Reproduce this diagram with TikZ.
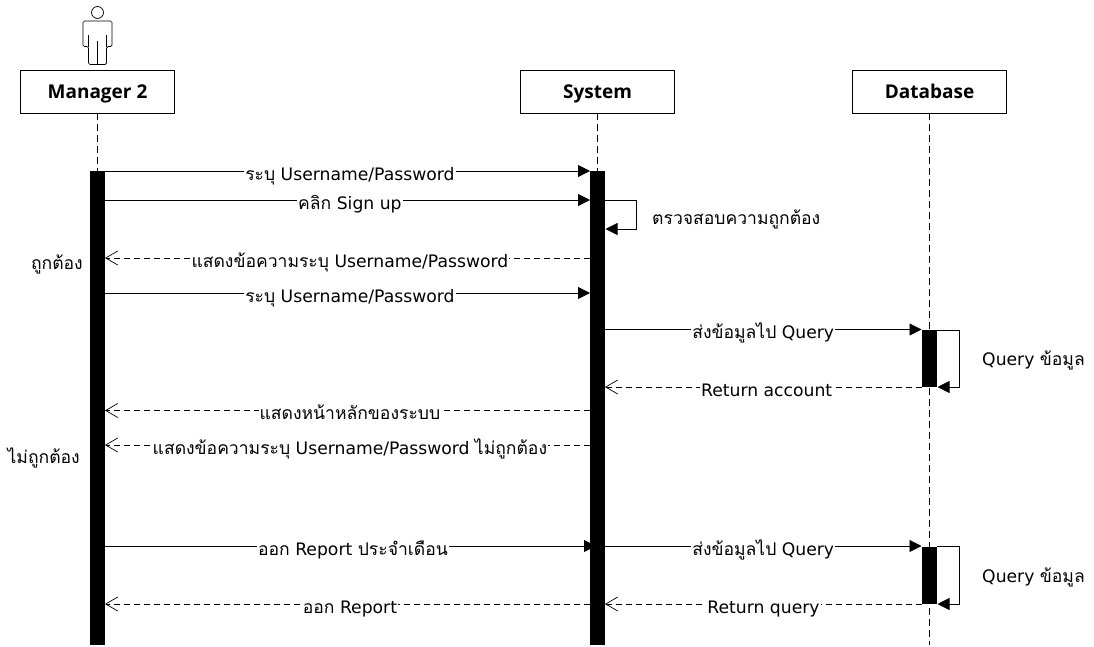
\documentclass[tikz,border=0pt]{standalone}
\usepackage{fontspec}
\setmainfont{DejaVu Sans}
\newfontfamily\headfont{Open Sans}
\newfontfamily\thaifont[Script=Thai, Scale=1.02]{Loma}
\usetikzlibrary{positioning}
\usetikzlibrary{arrows.meta}

\begin{document}
\begin{tikzpicture}[x=1pt, y=-1pt, font=\fontsize{17.2}{20}\selectfont,
    lifebox/.style = {draw, fill=white, line width=0.9pt, minimum width=154pt, minimum height=43pt, text height=18pt, text depth=4pt, font=\fontsize{19}{20}\selectfont\headfont\bfseries},
    lifeline/.style = {draw, dashed, dash pattern=on 7pt off 4pt, line width=0.7pt},
    bar/.style = {draw=none, fill=black, minimum width=15pt, inner sep=0pt, anchor=north},
    call/.style = {-{Triangle[length=12pt, width=12pt]}, line width=0.8pt},
    back/.style = {-{Straight Barb[length=12pt, width=14pt]}, dash pattern=on 6pt off 4pt, line width=0.7pt},
    msg/.style = {fill=white, inner xsep=1pt, inner ysep=0pt, text height=12pt, text depth=4pt, yshift=-5pt, pos=0.505},
    note/.style = {inner sep=0pt, text height=12pt, text depth=4pt, yshift=-2pt}]
    \useasboundingbox (0,0) rectangle (1094,646);

    % lifelines
    \node[lifebox] (manager) at (97.5,91.5) {Manager 2};
    \node[lifebox] (system) [right of=manager, node distance=500pt] {System};
    \node[lifebox] (database) [right of=system, node distance=332pt] {Database};
    \coordinate (mend) at (97.5,645);
    \coordinate (send) at (597.5,645);
    \coordinate (dend) at (929.5,645);
    \draw[lifeline] (manager) -- (mend);
    \draw[lifeline] (system) -- (send);
    \draw[lifeline] (database) -- (dend);

    % actor
    \node[draw, circle, line width=0.7pt, minimum size=12pt, inner sep=0pt] (head) at (97.5,12.5) {};
    \draw[line width=0.7pt, rounded corners=1.5pt] (88.5,64.5) -- (88.5,46.5) -- (83,46.5) -- (83,21) -- (112,21) -- (112,46.5) -- (106.5,46.5) -- (106.5,64.5) -- cycle;
    \draw[line width=0.7pt] (88.5,35) -- (88.5,46.5);
    \draw[line width=0.7pt] (106.5,35) -- (106.5,46.5);
    \draw[line width=0.7pt] (97.5,40.5) -- (97.5,64.5);

    % message ends
    \coordinate (m1) at (105,171);
    \coordinate (s1) at (590,171);
    \coordinate (m2) at (105,200);
    \coordinate (s2) at (590,200);
    \coordinate (m3) at (105,258);
    \coordinate (s3) at (590,258);
    \coordinate (m4) at (105,293);
    \coordinate (s4) at (590,293);
    \coordinate (s5) at (605,329.5);
    \coordinate (d5) at (921.5,329.5);
    \coordinate (s6) at (605,387);
    \coordinate (d6) at (922,387);
    \coordinate (m7) at (105,410.5);
    \coordinate (s7) at (590,410.5);
    \coordinate (m8) at (105,445);
    \coordinate (s8) at (590,445);
    \coordinate (m9) at (105,546);
    \coordinate (s9) at (596,546);
    \coordinate (s10) at (605,546);
    \coordinate (d10) at (921.5,546);
    \coordinate (m11) at (105,604);
    \coordinate (s11) at (590,604);
    \coordinate (s12) at (605,604);
    \coordinate (d12) at (922,604);

    \draw[call] (m1) -- node[msg] {{\thaifont ระบุ} Username/Password} (s1);
    \draw[call] (m2) -- node[msg] {{\thaifont คลิก} Sign up} (s2);
    \draw[back] (s3) -- node[msg, pos=0.495] {{\thaifont แสดงข้อความระบุ} Username/Password} (m3);
    \draw[call] (m4) -- node[msg] {{\thaifont ระบุ} Username/Password} (s4);
    \draw[call] (s5) -- node[msg, pos=0.5] {{\thaifont ส่งข้อมูลไป} Query} (d5);
    \draw[back] (d6) -- node[msg, pos=0.49] {Return account} (s6);
    \draw[back] (s7) -- node[msg, pos=0.495] {\thaifont แสดงหน้าหลักของระบบ} (m7);
    \draw[back] (s8) -- node[msg, pos=0.495] {{\thaifont แสดงข้อความระบุ} Username/Password {\thaifont ไม่ถูกต้อง}} (m8);
    \draw[call] (m9) -- node[msg] {{\thaifont ออก} Report {\thaifont ประจำเดือน}} (s9);
    \draw[call] (s10) -- node[msg, pos=0.5] {{\thaifont ส่งข้อมูลไป} Query} (d10);
    \draw[back] (s11) -- node[msg, pos=0.495] {{\thaifont ออก} Report} (m11);
    \draw[back] (d12) -- node[msg, pos=0.5] {Return query} (s12);

    % activations
    \node[bar, minimum height=474pt] (mbar) at (97.5,171) {};
    \node[bar, minimum height=474pt] (sbar) at (597.5,171) {};
    \node[bar, minimum height=57pt] (dbar1) at (929.5,330) {};
    \node[bar, minimum height=57pt] (dbar2) at (929.5,547) {};

    % self calls
    \coordinate (c1) at (605,200);
    \coordinate (c2) at (605.5,229);
    \draw[call] (c1) -- (636,200) -- (636,229) -- (c2);
    \coordinate (c3) at (937,330);
    \coordinate (c4) at (937.5,387);
    \draw[call] (c3) -- (959,330) -- (959,387) -- (c4);
    \coordinate (c5) at (937,546);
    \coordinate (c6) at (937.5,604);
    \draw[call] (c5) -- (959,546) -- (959,604) -- (c6);

    % notes
    \node[note, anchor=west] (check) at (652,218) {\thaifont ตรวจสอบความถูกต้อง};
    \node[note, anchor=west] (query1) at (982,359) {Query {\thaifont ข้อมูล}};
    \node[note, anchor=west] (query2) at (982,576) {Query {\thaifont ข้อมูล}};
    \node[note, anchor=east] (ok) at (83,263) {\thaifont ถูกต้อง};
    \node[note, anchor=east] (notok) at (80,457) {\thaifont ไม่ถูกต้อง};
\end{tikzpicture}
\end{document}
